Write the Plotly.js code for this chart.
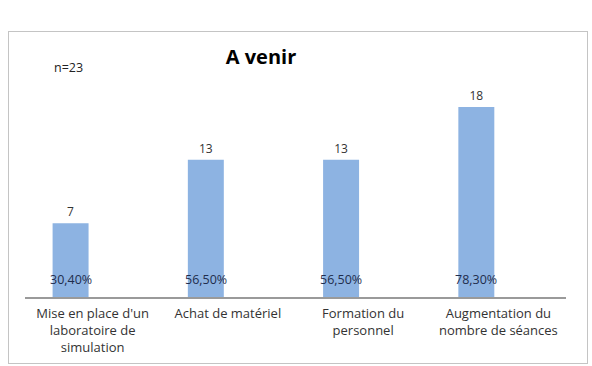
<!DOCTYPE html>
<html><head><meta charset="utf-8">
<script src="https://cdn.plot.ly/plotly-3.0.1.min.js"></script>
<style>
body{margin:0;background:#fff;}
#frame{position:absolute;left:8px;top:31px;width:578px;height:331px;border:1px solid #c4c4c4;}
#chart{width:578px;height:331px;}
</style></head><body>
<div id="frame"><div id="chart"></div></div>
<script>
const categories = ["Mise en place d'un<br>laboratoire de<br>simulation", "Achat de matériel", "Formation du<br>personnel", "Augmentation du<br>nombre de séances"];
const counts = [7, 13, 13, 18];
const percents = ["30,40%", "56,50%", "56,50%", "78,30%"];
const chartTitle = "A venir";
const sampleNote = "n=23";

const barColor = '#8db3e2';
const barWidth = 0.266, barOffset = -0.296;
const data = [{
  type: 'bar', x: categories, y: counts,
  width: barWidth, offset: barOffset,
  marker: {color: barColor}, hoverinfo: 'skip', cliponaxis: false, textangle: 0,
  text: counts.map(String), textposition: 'outside', constraintext: 'none',
  textfont: {family: 'Open Sans', size: 12, color: '#333'}
}];
const plotW = 578 - 16 - 21;
const barCenterShift = (barOffset + barWidth / 2) * plotW / categories.length;
const annotations = [{text: sampleNote, xref: 'paper', yref: 'paper', x: 0.08, y: 1.09, showarrow: false,
                 xanchor: 'center', yanchor: 'middle', font: {family: 'Open Sans', size: 12.5, color: '#222'}}];
categories.forEach((c, i) => annotations.push({
  text: percents[i], x: c, y: 0, xref: 'x', yref: 'y', showarrow: false,
  xanchor: 'center', yanchor: 'middle', xshift: barCenterShift, yshift: 18,
  font: {family: 'Open Sans', size: 12.5, color: '#1f2d4d'}
}));
const layout = {
  width: 578, height: 331,
  margin: {l: 16, r: 21, t: 54, b: 66},
  paper_bgcolor: '#fff', plot_bgcolor: '#fff',
  showlegend: false,
  title: {text: '<b>' + chartTitle + '</b>', font: {family: 'Open Sans', size: 20, color: '#000'},
          xref: 'container', x: 0.436, xanchor: 'center', yref: 'container', y: 0.924, yanchor: 'middle'},
  xaxis: {type: 'category', showgrid: false, zeroline: false, showline: true, linecolor: '#9a9a9a', linewidth: 1.5,
          ticks: '', ticklabelstandoff: 4, tickfont: {family: 'Open Sans', size: 13, color: '#333'}, fixedrange: true},
  yaxis: {range: [0, 20], visible: false, fixedrange: true},
  annotations: annotations
};
Plotly.newPlot('chart', data, layout, {displayModeBar: false, staticPlot: true});
</script>
</body></html>
